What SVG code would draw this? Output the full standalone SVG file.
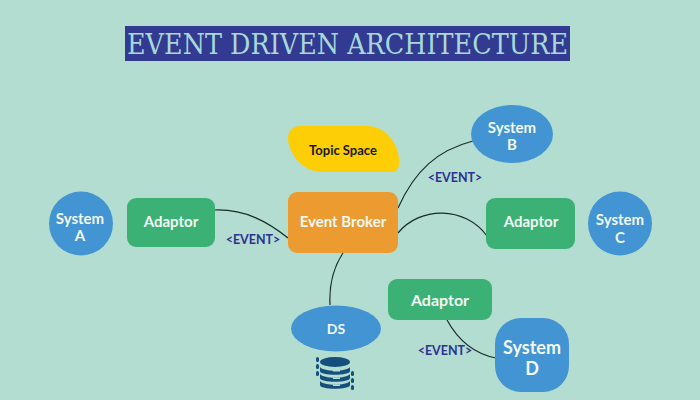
<svg xmlns="http://www.w3.org/2000/svg" width="700" height="400" viewBox="0 0 700 400">
<style>
text{font-family:Lato,"Noto Sans","Liberation Sans",sans-serif;text-anchor:middle}
.w{fill:#f2f8f4;font-weight:700}
.s{font-size:15px}
.ev{fill:#2e3192;font-size:12.500px;font-weight:700}
.ad{fill:#3cb176}
.sys{fill:#4295d2}
.c{fill:none;stroke:#1c2a2a;stroke-width:1.2}
.gap{fill:#b2ddd0}
</style>
<rect width="700" height="400" fill="#b2ddd0"/>
<g id="title">
<rect x="125" y="26" width="445" height="35" fill="#323a92"/>
<text x="347.500" y="54" font-size="28" style="font-family:'DejaVu Serif','Liberation Serif',serif;font-weight:400" fill="#a8d8d8" textLength="441" lengthAdjust="spacingAndGlyphs">EVENT DRIVEN ARCHITECTURE</text>
</g>
<g id="connectors">
<path class="c" d="M215 210C245 209 268 222 288 238"/>
<path class="c" d="M398 208C415 170 438 150 473 141"/>
<path class="c" d="M398 233C420 206 465 206 487 236"/>
<path class="c" d="M343 253C333 268 329 285 330 305"/>
<path class="c" d="M447 320C458 340 475 354 496 358"/>
</g>
<g id="system-a"><circle class="sys" cx="81" cy="223.500" r="32"/><text class="w s" x="80" y="223.500">System</text><text class="w s" x="80" y="241">A</text></g>
<g id="adaptor-a"><rect class="ad" x="127" y="198" width="88" height="49" rx="9"/><text class="w" font-size="15" x="171" y="227">Adaptor</text></g>
<g id="event-a"><text class="ev" x="253" y="244">&lt;EVENT&gt;</text></g>
<g id="topic-space"><path d="M300 126H368C386 126 399 146 399 160V164C399 169 396 172 391 172H322C302 172 288 152 288 138C288 131 293 126 300 126Z" fill="#fdcd05"/><text x="343" y="155" font-size="13" font-weight="700" fill="#1a1a1a">Topic Space</text></g>
<g id="event-broker"><rect x="288" y="192" width="110" height="61" rx="9" fill="#ec9b30"/><text class="w" font-size="15" x="343" y="227">Event Broker</text></g>
<g id="system-b"><ellipse class="sys" cx="512" cy="134" rx="41" ry="29"/><text class="w s" x="512" y="132.500">System</text><text class="w s" x="512" y="150">B</text></g>
<g id="event-b"><text class="ev" x="455" y="182">&lt;EVENT&gt;</text></g>
<g id="adaptor-c"><rect class="ad" x="486" y="198" width="89" height="51" rx="9"/><text class="w" font-size="15" x="531" y="227">Adaptor</text></g>
<g id="system-c"><circle class="sys" cx="620" cy="223.500" r="32"/><text class="w s" x="620" y="225">System</text><text class="w s" x="620" y="242.500">C</text></g>
<g id="ds"><ellipse class="sys" cx="336" cy="328.500" rx="45" ry="23"/><text class="w" font-size="14" x="336" y="334">DS</text></g>
<g id="database" fill="#15507c">
<ellipse cx="335" cy="362" rx="15" ry="5"/>
<path d="M320 364C324 369 346 369 350 364V368C346 372 324 372 320 368Z" class="gap"/>
<path d="M320 367C324 372 346 372 350 367V371C350 376 320 376 320 371Z"/>
<path d="M320 374C324 379 346 379 350 374V378C350 383 320 383 320 378Z"/>
<path d="M320 381C324 386 346 386 350 381V385C350 390 320 390 320 385Z"/>
<rect x="333" y="370" width="7" height="1.500" class="gap"/>
<rect x="333" y="377.500" width="7" height="1.500" class="gap"/>
<rect x="333" y="384.500" width="7" height="1.500" class="gap"/>
<rect x="316" y="357" width="3" height="5" rx="1.500"/><rect x="316" y="364" width="3" height="5" rx="1.500"/><rect x="316" y="371" width="3" height="5" rx="1.500"/>
<rect x="351" y="371" width="3" height="5" rx="1.500"/><rect x="351" y="378" width="3" height="5" rx="1.500"/><rect x="351" y="385" width="3" height="5" rx="1.500"/>
</g>
<g id="adaptor-d"><rect class="ad" x="388" y="279" width="104" height="41" rx="9"/><text class="w" font-size="16" x="440" y="306">Adaptor</text></g>
<g id="event-d"><text class="ev" x="445" y="355">&lt;EVENT&gt;</text></g>
<g id="system-d"><rect class="sys" x="495" y="318" width="74" height="74" rx="26"/><text class="w" font-size="18" x="532" y="354">System</text><text class="w" font-size="18" x="532" y="375">D</text></g>
</svg>
